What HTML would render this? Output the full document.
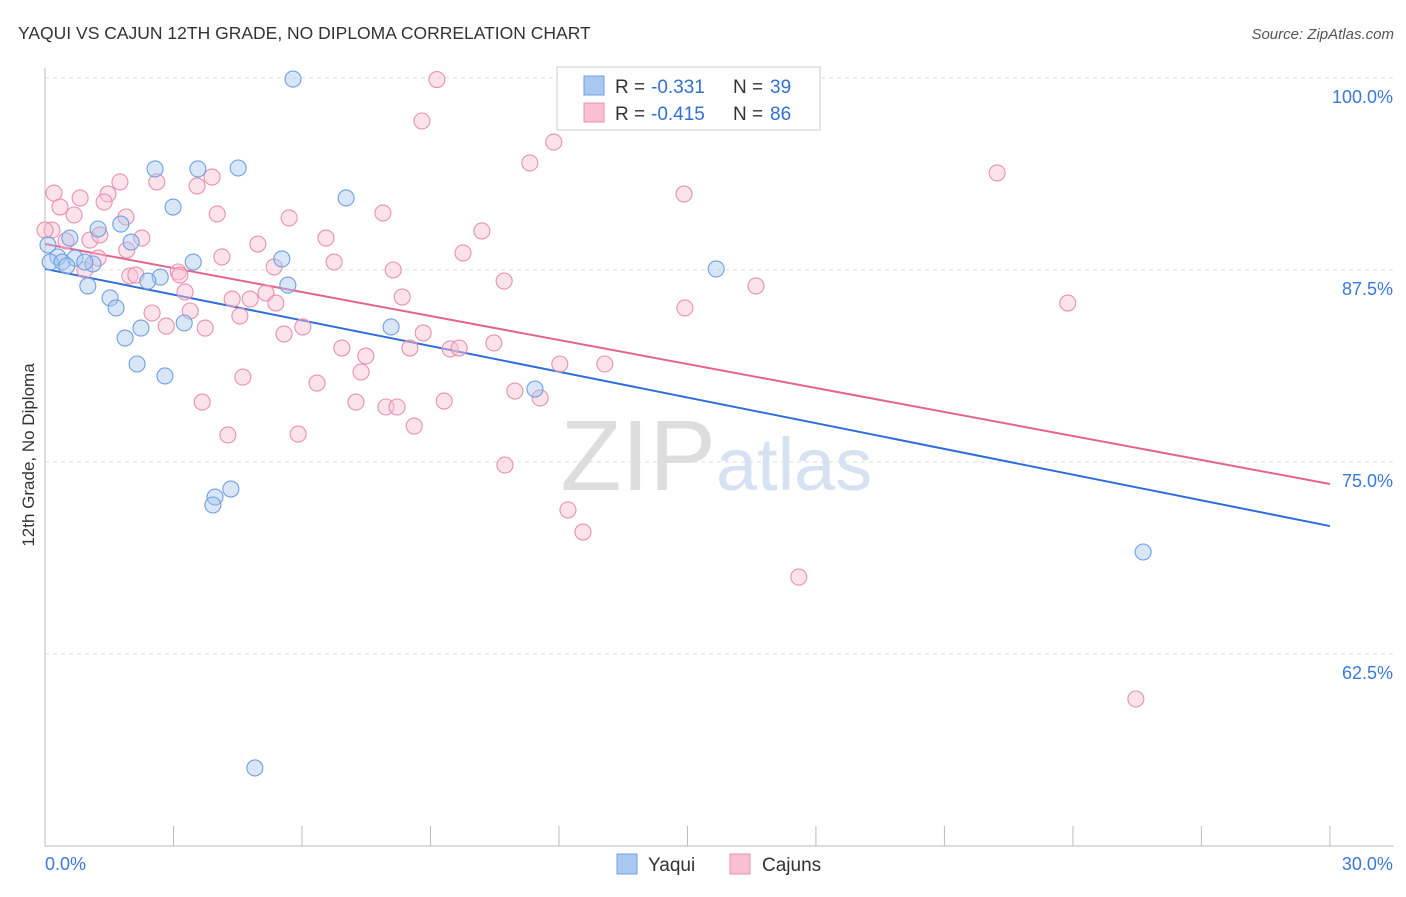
<!DOCTYPE html>
<html><head><meta charset="utf-8"><style>
body{margin:0;background:#fff;font-family:"Liberation Sans",sans-serif}
svg text{font-family:"Liberation Sans",sans-serif}
</style></head><body>
<svg id="chart" width="1406" height="892" xmlns="http://www.w3.org/2000/svg">
<text x="18" y="39" font-size="17.5" fill="#333">YAQUI VS CAJUN 12TH GRADE, NO DIPLOMA CORRELATION CHART</text>
<text x="1394" y="39" font-size="15" fill="#555" text-anchor="end" font-style="italic">Source: ZipAtlas.com</text>
<text x="716" y="490" font-size="100" fill="#ddd" text-anchor="end" font-family="Liberation Serif">ZIP</text>
<text x="716" y="490" font-size="74" fill="#d6e2f2">atlas</text>
<g id="grid"></g><g id="axes"></g><g id="lines"></g><g id="pts"></g>
<text transform="translate(34,455) rotate(-90)" font-size="17" fill="#333" text-anchor="middle">12th Grade, No Diploma</text>
<g>
<rect x="557" y="67" width="263" height="63" fill="#fff" stroke="#ccc"/>
<rect x="584" y="76" width="20" height="19" fill="#a8c8f0" stroke="#6fa0e0"/>
<rect x="584" y="103" width="20" height="19" fill="#f8c0d2" stroke="#e890b0"/>
<text x="615" y="93" font-size="19" fill="#333">R =</text><text x="651" y="93" font-size="19" fill="#3070d0">-0.331</text>
<text x="733" y="93" font-size="19" fill="#333">N =</text><text x="770" y="93" font-size="19" fill="#3070d0">39</text>
<text x="615" y="120" font-size="19" fill="#333">R =</text><text x="651" y="120" font-size="19" fill="#3070d0">-0.415</text>
<text x="733" y="120" font-size="19" fill="#333">N =</text><text x="770" y="120" font-size="19" fill="#3070d0">86</text>
</g>
<g>
<rect x="617" y="854" width="20" height="20" fill="#a8c8f0" stroke="#6fa0e0"/>
<text x="648" y="871" font-size="19" fill="#333">Yaqui</text>
<rect x="730" y="854" width="20" height="20" fill="#f8c0d2" stroke="#e890b0"/>
<text x="762" y="871" font-size="19" fill="#333">Cajuns</text>
</g>
</svg>
<script>
const yTicks=[100,87.5,75,62.5];
const yTickLabels=["100.0%","87.5%","75.0%","62.5%"];
const xTickLabels=["0.0%","30.0%"];
const yaquiX=[5.79,2.57,3.57,4.51,2.99,7.03,1.77,1.24,0.58,2.01,0.07,0.30,0.70,1.12,0.12,3.46,5.53,15.67,2.69,2.40,5.67,1.00,1.52,1.66,2.24,3.25,8.08,1.87,2.15,2.80,11.44,3.97,4.34,3.92,25.64,4.90,0.40,0.93,0.51];
const yaquiY=[99.93,94.08,94.08,94.14,91.6,92.19,90.49,90.17,89.58,89.32,89.13,88.35,88.28,87.89,88.02,88.02,88.22,87.57,87.04,86.78,86.52,86.46,85.68,85.03,83.72,84.05,83.79,83.07,81.38,80.6,79.75,72.72,73.24,72.2,69.14,55.08,88.02,88.02,87.76];
const cajunX=[9.15,8.8,11.88,11.32,22.23,14.92,0.21,0.82,1.47,2.61,3.55,3.9,0.35,0.68,1.38,1.89,4.02,5.7,7.89,10.2,0.16,0.49,1.05,2.26,4.97,6.56,9.76,4.13,6.75,1.91,1.24,5.35,8.13,10.72,16.6,1.98,3.11,2.12,3.27,4.37,4.79,5.16,5.39,8.34,23.88,14.94,2.5,4.55,3.39,2.83,3.74,6.02,5.58,8.83,6.93,7.49,8.52,9.46,9.67,10.48,12.02,13.07,7.38,6.35,4.62,3.67,7.26,7.96,8.22,9.32,10.97,11.56,4.27,5.91,8.62,10.74,12.21,12.56,17.6,25.47,1.75,1.28,3.15,0.93,0.0];
const cajunY=[99.9,97.2,95.83,94.47,93.82,92.45,92.51,92.19,92.45,93.23,92.97,93.55,91.6,91.08,91.93,90.95,91.15,90.89,91.21,90.04,90.1,89.39,89.45,89.58,89.19,89.58,88.61,88.35,88.02,88.8,88.28,87.7,87.5,86.78,86.46,87.11,87.37,87.17,86.07,85.61,85.61,86.0,85.35,85.74,85.35,85.03,84.7,84.5,84.83,83.85,83.72,83.79,83.33,83.4,82.42,81.9,82.42,82.36,82.42,82.75,81.38,81.38,80.86,80.14,80.53,78.9,78.9,78.58,78.58,78.97,79.62,79.17,76.76,76.82,77.34,74.8,71.88,70.44,67.51,59.57,93.23,89.78,87.17,87.5,90.1];
const yaquiTrend=[87.57,70.83];
const cajunTrend=[89.19,73.57];
const X=v=>45+v*42.83, Y=v=>78+(100-v)*15.36;
const NS="http://www.w3.org/2000/svg";
function mk(parent,tag,attrs){const e=document.createElementNS(NS,tag);for(const k in attrs)e.setAttribute(k,attrs[k]);document.getElementById(parent).appendChild(e);return e;}
yTicks.forEach((t,i)=>{
 const l=mk('grid','line',{x1:45,x2:1394,y1:Y(t),y2:Y(t),stroke:'#ddd','stroke-dasharray':'4,4'});
 
 
 const tx=mk('grid','text',{x:1393,y:Y(t)+25,'font-size':18,fill:'#3b78d8','text-anchor':'end'});tx.textContent=yTickLabels[i];
 
 
});
const ax=mk('axes','line',{x1:45,x2:45,y1:68,y2:846,stroke:'#bbb'});


const bx=mk('axes','line',{x1:45,x2:1394,y1:846,y2:846,stroke:'#bbb'});


for(let i=0;i<=10;i++){const t=mk('axes','line',{x1:X(i*3),x2:X(i*3),y1:826,y2:846,stroke:'#bbb'});
 
 }
[[0,'start'],[30,'end']].forEach((d,i)=>{const t=mk('axes','text',{x:X(d[0])+(i?63:0),y:870,'font-size':18,fill:'#3b78d8','text-anchor':d[1]});t.textContent=xTickLabels[i];
 
 });
function pts(xs,ys,fill,stroke,name){xs.forEach((x,i)=>{const c=mk('pts','circle',{cx:X(x),cy:Y(ys[i]),r:8,fill:fill,'fill-opacity':0.45,stroke:stroke,'stroke-width':1.1});
 
 });}
pts(cajunX,cajunY,'#f8c0d2','#e890b0','cajun-point');
pts(yaquiX,yaquiY,'#a8c8f0','#6fa0e0','yaqui-point');
const l1=mk('lines','line',{x1:X(0),x2:X(30),y1:Y(yaquiTrend[0]),y2:Y(yaquiTrend[1]),stroke:'#2f6fd8','stroke-width':2});


const l2=mk('lines','line',{x1:X(0),x2:X(30),y1:Y(cajunTrend[0]),y2:Y(cajunTrend[1]),stroke:'#e2658f','stroke-width':2});


</script>
</body></html>
